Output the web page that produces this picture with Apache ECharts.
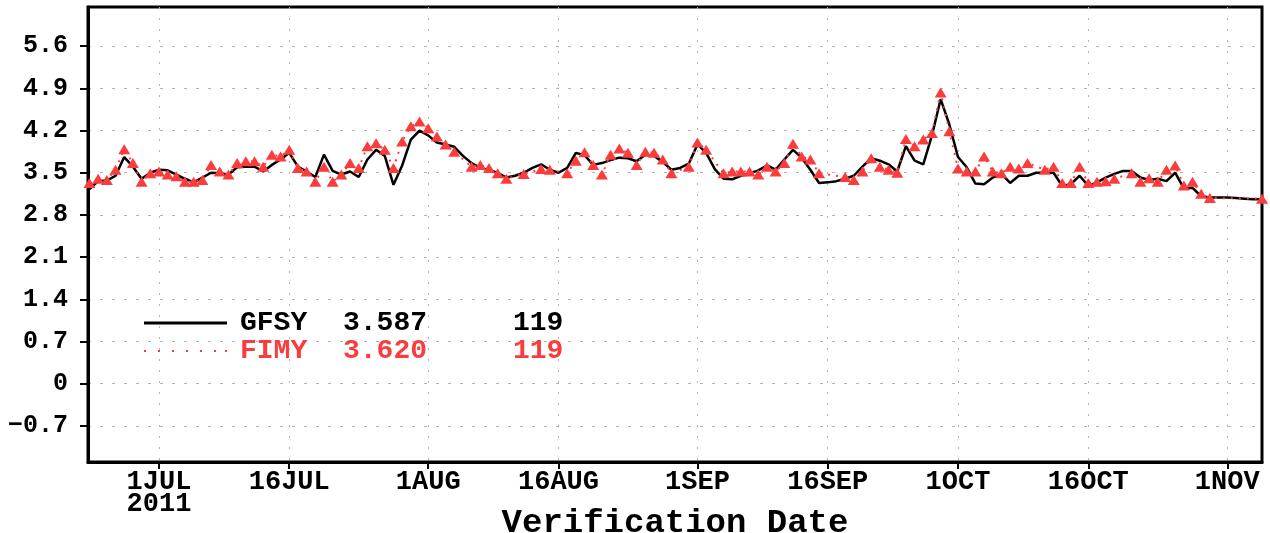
<!DOCTYPE html>
<html>
<head>
<meta charset="utf-8">
<title>GFSY vs FIMY</title>
<script src="https://cdn.jsdelivr.net/npm/echarts@6/dist/echarts.min.js"></script>
<style>
  html, body { margin: 0; padding: 0; background: #fff; }
  #main { width: 1270px; height: 533px; }
</style>
</head>
<body>
<div id="main"></div>
<script>
// daily values, first day 23 Jun 2011, null = missing
var startDay = Date.UTC(2011, 5, 23);
var gfsy = [
  3.23, 3.36, 3.37, 3.45, 3.76, 3.60, 3.40, 3.50,
  3.55, 3.54, 3.47, 3.40, 3.34, 3.42, 3.50, 3.49, 3.47, 3.59,
  3.60, 3.60, 3.52, 3.63, 3.72, 3.83, 3.60, 3.52, 3.43, 3.80,
  3.53, 3.47, 3.52, 3.43, 3.72, 3.88, 3.78, 3.30, 3.62, 4.05,
  4.20, 4.12, 4.00, 3.97, 3.93, 3.78, 3.66, 3.58, 3.54, 3.50,
  3.42, 3.45, 3.50, 3.58, 3.64, 3.55, 3.50, 3.58, 3.83, 3.79,
  3.63, 3.66, 3.71, 3.75, 3.74, 3.69, 3.80, 3.78, 3.68, 3.55,
  3.58, 3.65, 3.97, 3.83, 3.56, 3.40, 3.39, 3.45, 3.49, 3.54,
  3.62, 3.55, 3.72, 3.88, 3.75, 3.55, 3.33, 3.34, 3.36, 3.40,
  3.45, 3.60, 3.74, 3.70, 3.64, 3.52, 3.94, 3.70, 3.64, 4.12,
  4.72, 4.30, 3.76, 3.59, 3.32, 3.31, 3.42, 3.48, 3.33, 3.45,
  3.45, 3.50, 3.50, 3.50, 3.28, 3.31, 3.45, 3.28, 3.34, 3.42,
  3.48, 3.53, 3.53, 3.42, 3.38, 3.40, 3.36, 3.50, 3.24, 3.25,
  3.11, 3.09, 3.09, 3.09, 3.08, 3.07, 3.06, 3.06
];
var fimy = [
  3.33, 3.40, 3.38, 3.55, 3.89, 3.66, 3.35, 3.49,
  3.52, 3.47, 3.44, 3.35, 3.35, 3.38, 3.63, 3.52, 3.47, 3.66,
  3.69, 3.69, 3.60, 3.80, 3.77, 3.88, 3.58, 3.52, 3.35, 3.60,
  3.35, 3.47, 3.66, 3.58, 3.94, 3.99, 3.88, 3.58, 4.02, 4.27,
  4.35, 4.24, 4.10, 3.97, 3.85, null, 3.60, 3.63, 3.58, 3.49,
  3.40, null, 3.48, null, 3.56, 3.55, null, 3.49, 3.70, 3.84,
  3.63, 3.47, 3.80, 3.90, 3.83, 3.63, 3.85, 3.83, 3.72, 3.49,
  null, 3.60, 4.00, 3.88, null, 3.49, 3.52, 3.52, 3.52, 3.47,
  3.60, 3.52, 3.66, 3.98, 3.77, 3.72, 3.49, null, null, 3.43,
  3.38, 3.52, 3.74, 3.60, 3.55, 3.50, 4.06, 3.94, 4.05, 4.16,
  4.83, 4.19, 3.57, 3.52, 3.52, 3.77, 3.52, 3.49, 3.60, 3.57,
  3.66, null, 3.55, 3.60, 3.33, 3.33, 3.60, 3.33, 3.35, 3.36,
  3.40, null, 3.49, 3.35, 3.41, 3.35, 3.55, 3.62, 3.29, 3.35,
  3.15, 3.08, null, null, null, null, null, 3.07
];
var seriesNames = ['GFSY', 'FIMY'];
var seriesMeans = ['3.587', '3.620'];
var seriesCounts = ['119', '119'];
var yTicks = [-0.7, 0, 0.7, 1.4, 2.1, 2.8, 3.5, 4.2, 4.9, 5.6];
var xTickDates = [
  Date.UTC(2011, 6, 1), Date.UTC(2011, 6, 16), Date.UTC(2011, 7, 1),
  Date.UTC(2011, 7, 16), Date.UTC(2011, 8, 1), Date.UTC(2011, 8, 16),
  Date.UTC(2011, 9, 1), Date.UTC(2011, 9, 16), Date.UTC(2011, 10, 1)
];
var xTickLabels = ['1JUL\n2011', '16JUL', '1AUG', '16AUG', '1SEP', '16SEP', '1OCT', '16OCT', '1NOV'];

var DAY = 86400000;
var RED = '#fb3c3c';
var FONT = '"Liberation Mono", "DejaVu Sans Mono", monospace';

function pairs(arr) {
  return arr.map(function (v, i) { return [startDay + i * DAY, v]; });
}

var chart = echarts.init(document.getElementById('main'), null, { renderer: 'canvas' });
chart.setOption({
  animation: false,
  backgroundColor: '#fff',
  grid: {
    left: 88, right: 8, top: 7, bottom: 71,
    outerBoundsMode: 'none',
    show: true, borderColor: '#000', borderWidth: 3
  },
  legend: {
    orient: 'vertical',
    left: 139,
    top: 304,
    itemWidth: 83,
    itemHeight: 3,
    itemGap: 0,
    selectedMode: false,
    itemStyle: { borderWidth: 0 },
    data: [
      { name: 'GFSY', icon: 'rect', textStyle: { color: '#000' } },
      {
        name: 'FIMY',
        icon: 'path://M0 0h2v2h-2z M14 0h2v2h-2z M28 0h2v2h-2z M42 0h2v2h-2z M56 0h2v2h-2z M70 0h2v2h-2z M81 0h2v2h-2z',
        textStyle: { color: RED }
      }
    ],
    formatter: function (name) {
      var i = seriesNames.indexOf(name);
      return '{n|' + name + '}{m|' + seriesMeans[i] + '}{c|' + seriesCounts[i] + '}';
    },
    textStyle: {
      fontFamily: FONT, fontWeight: 'bold', fontSize: 28, lineHeight: 27,
      rich: {
        n: { fontFamily: FONT, fontWeight: 'bold', fontSize: 28, width: 103, padding: [0, 0, 0, 8] },
        m: { fontFamily: FONT, fontWeight: 'bold', fontSize: 28, width: 170 },
        c: { fontFamily: FONT, fontWeight: 'bold', fontSize: 28 }
      }
    }
  },
  xAxis: {
    type: 'value',
    min: startDay - 0.17 * DAY,
    max: startDay + 135 * DAY,
    name: 'Verification Date',
    nameLocation: 'middle',
    nameGap: 44,
    nameMoveOverlap: false,
    nameTextStyle: { fontFamily: FONT, fontWeight: 'bold', fontSize: 34, color: '#000' },
    axisLine: { onZero: false, lineStyle: { color: '#000', width: 3 } },
    axisTick: {
      customValues: xTickDates,
      length: 7,
      lineStyle: { color: '#000', width: 2 }
    },
    axisLabel: {
      customValues: xTickDates,
      margin: 9,
      color: '#000',
      fontFamily: FONT,
      fontWeight: 'bold',
      fontSize: 27,
      lineHeight: 22,
      formatter: function (val) {
        var i = xTickDates.indexOf(val);
        return i >= 0 ? xTickLabels[i] : '';
      }
    },
    splitLine: {
      show: true,
      lineStyle: { color: '#b4b4b4', width: 1, type: [2, 9] }
    }
  },
  yAxis: {
    type: 'value',
    min: -1.3,
    max: 6.25,
    axisLine: { show: true, lineStyle: { color: '#000', width: 3 } },
    axisTick: {
      show: true,
      customValues: yTicks,
      length: 8,
      lineStyle: { color: '#000', width: 2 }
    },
    axisLabel: {
      customValues: yTicks,
      margin: 20,
      color: '#000',
      fontFamily: FONT,
      fontWeight: 'bold',
      fontSize: 25,
      formatter: function (v) {
        if (v === 0) return '0';
        var s = Math.abs(v).toFixed(1);
        return v < 0 ? '\u2212' + s : s;
      }
    },
    splitLine: {
      show: true,
      lineStyle: { color: '#b4b4b4', width: 1, type: [3, 9] }
    }
  },
  series: [
    {
      name: 'GFSY',
      type: 'line',
      data: pairs(gfsy),
      connectNulls: true,
      showSymbol: false,
      symbol: 'none',
      color: '#000',
      lineStyle: { color: '#000', width: 2.5 },
      z: 2
    },
    {
      name: 'FIMY',
      type: 'line',
      data: pairs(fimy),
      connectNulls: true,
      symbol: 'triangle',
      symbolSize: [12, 10],
      color: RED,
      itemStyle: { color: RED, borderWidth: 0 },
      lineStyle: { color: RED, width: 2, type: [2, 6] },
      z: 3
    }
  ]
});
</script>
</body>
</html>
